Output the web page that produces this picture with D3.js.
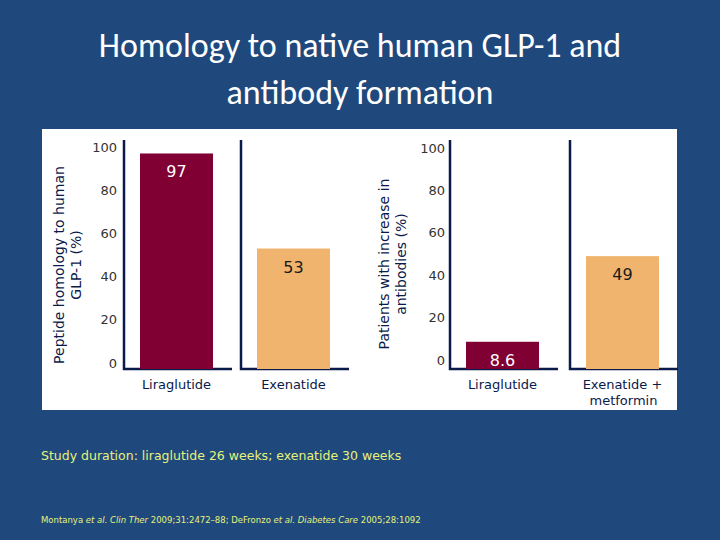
<!DOCTYPE html><html><head><meta charset="utf-8"><script src="https://cdn.jsdelivr.net/npm/d3@7"></script>
<style>body{margin:0;background:#1f497d}</style></head><body><svg id="c" width="720" height="540"></svg>
<script>
const leftCategories=["Liraglutide","Exenatide"];
const leftValues=[97,53];
const leftLabels=["97","53"];
const rightCategories=["Liraglutide","Exenatide +|metformin"];
const rightValues=[8.6,49];
const rightLabels=["8.6","49"];
const ticks=[0,20,40,60,80,100];
const colors=["#800033","#f0b46e"];
const labelColors=["#ffffff","#1a1a1a"];
const svg=d3.select("#c");
svg.append("rect").attr("width",720).attr("height",540).attr("fill","#1f497d");
const t=svg.append("text").attr("text-anchor","middle").attr("fill","#fff").attr("font-family","Calibri, Carlito, 'Liberation Sans', sans-serif").attr("font-size",34);
t.append("tspan").attr("x",360).attr("y",57).text("Homology to native human GLP-1 and");
t.append("tspan").attr("x",360).attr("y",104).text("antibody formation");
svg.append("rect").attr("x",42).attr("y",129).attr("width",635).attr("height",281).attr("fill","#fff");
const F="Verdana, 'DejaVu Sans', sans-serif", navy="#0a1a4a";
function panel(cats,vals,labs,axes,y0,y100,tickX,title,titleX){
  const y=d3.scaleLinear().domain([0,100]).range([y0,y100]);
  const base=369;
  svg.append("g").attr("transform",`translate(${tickX},0)`).call(d3.axisLeft(y).tickValues(ticks).tickSize(0).tickPadding(0))
   .call(g=>{g.select(".domain").remove();g.selectAll("text").attr("font-family",F).attr("font-size",13).attr("fill","#333").attr("text-anchor","end");});
  cats.forEach((c,i)=>{
    const a=axes[i];
    svg.append("path").attr("d",`M${a},140V${base}H${a+108}`).attr("fill","none").attr("stroke",navy).attr("stroke-width",2.5);
    const x0=a+16,w=73;
    svg.append("rect").attr("x",x0).attr("y",y(vals[i])).attr("width",w).attr("height",base-y(vals[i])).attr("fill",colors[i]);
    svg.append("text").attr("x",x0+w/2).attr("y",y(vals[i])+24).attr("text-anchor","middle").attr("font-family",F).attr("font-size",16).attr("fill",labelColors[i]).text(labs[i]);
    const lt=svg.append("text").attr("text-anchor","middle").attr("font-family",F).attr("font-size",13).attr("fill",navy);
    c.split("|").forEach((s,k)=>lt.append("tspan").attr("x",x0+w/2+(k?1:0)).attr("y",389+k*16).text(s));
  });
  const tt=svg.append("text").attr("transform",`translate(${titleX},${(y0+y100)/2+10}) rotate(-90)`).attr("text-anchor","middle").attr("font-family",F).attr("font-size",14).attr("fill",navy);
  title.forEach((s,k)=>tt.append("tspan").attr("x",0).attr("dy",k?17:0).text(s));
}
panel(leftCategories,leftValues,leftLabels,[124,241],363,147,117,["Peptide homology to human","GLP-1 (%)"],64);
panel(rightCategories,rightValues,rightLabels,[450,570],360,148,445,["Patients with increase in","antibodies (%)"],389);
svg.append("text").attr("x",41).attr("y",460).attr("font-family",F).attr("font-size",12.5).attr("fill","#e6f27a").text("Study duration: liraglutide 26 weeks; exenatide 30 weeks");
const r=svg.append("text").attr("x",41).attr("y",523).attr("font-family",F).attr("font-size",8.5).attr("fill","#e6f27a");
[["Montanya ",0],["et al. Clin Ther",1],[" 2009;31:2472–88; DeFronzo ",0],["et al. Diabetes Care",1],[" 2005;28:1092",0]].forEach(([s,i])=>r.append("tspan").attr("font-style",i?"italic":null).text(s));
</script></body></html>
